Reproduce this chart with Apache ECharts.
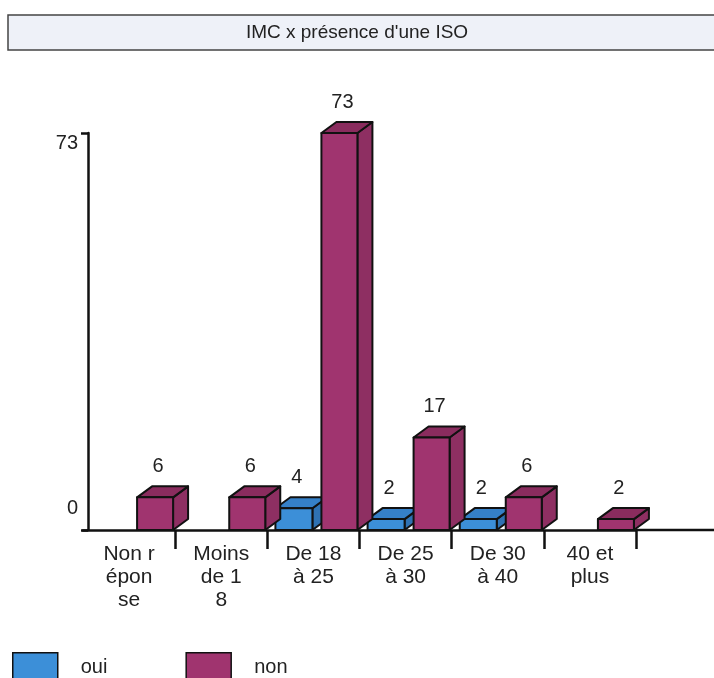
<!DOCTYPE html>
<html>
<head>
<meta charset="utf-8">
<script src="https://cdn.jsdelivr.net/npm/echarts@6/dist/echarts.min.js"></script>
<style>
html,body{margin:0;padding:0;background:#fff;}
#c{width:714px;height:678px;}
</style>
</head>
<body>
<div id="c"></div>
<script>
var titleText = "IMC x présence d'une ISO";
var categories = ["Non r\népon\nse", "Moins\nde 1\n8", "De 18\nà 25", "De 25\nà 30", "De 30\nà 40", "40 et\nplus"];
var seriesNames = ["oui", "non"];
var ouiValues = [0, 0, 4, 2, 2, 0];
var nonValues = [6, 6, 73, 17, 6, 2];
var yTicks = [0, 73];

var FONT = "'Liberation Sans', Arial, sans-serif";
var DX = 15, DY = -11;

function makeBox(offset, width, front, top, side) {
  return function (params, api) {
    var v = api.value(1);
    if (!v) return { type: 'group', children: [] };
    var base = api.coord([api.value(0), 0]);
    var tp = api.coord([api.value(0), v]);
    var x0 = base[0] + offset, x1 = x0 + width;
    var yb = base[1], yt = tp[1];
    var stroke = { stroke: '#111', lineWidth: 2, lineJoin: 'round' };
    return {
      type: 'group',
      children: [
        { type: 'polygon', shape: { points: [[x1, yt], [x1, yb], [x1 + DX, yb + DY], [x1 + DX, yt + DY]] },
          style: Object.assign({ fill: side }, stroke) },
        { type: 'polygon', shape: { points: [[x0, yt], [x1, yt], [x1 + DX, yt + DY], [x0 + DX, yt + DY]] },
          style: Object.assign({ fill: top }, stroke) },
        { type: 'rect', shape: { x: x0, y: yt, width: width, height: yb - yt },
          style: Object.assign({ fill: front }, stroke) },
        { type: 'text', style: { text: String(v), x: (x0 + x1) / 2 + 3, y: yt - 31, align: 'center', verticalAlign: 'middle',
          font: '20px ' + FONT, fill: '#222' } }
      ]
    };
  };
}

var chart = echarts.init(document.getElementById('c'), null, { renderer: 'canvas' });
var option = {
  backgroundColor: '#ffffff',
  animation: false,
  title: {
    text: titleText, left: 'center', top: 23, padding: 0,
    textStyle: { fontFamily: FONT, fontSize: 19, fontWeight: 'normal', color: '#222', lineHeight: 20 }
  },
  legend: {
    left: 7, top: 647, itemWidth: 45, itemHeight: 30, itemGap: 78, icon: 'rect',
    data: seriesNames,
    itemStyle: { borderColor: '#111', borderWidth: 1.5 },
    textStyle: { fontFamily: FONT, fontSize: 20, color: '#222', padding: [0, 0, 26, 18] }
  },
  grid: { left: 83, right: 78, top: 133, bottom: 148 },
  xAxis: {
    type: 'category', data: categories,
    axisLine: { lineStyle: { color: '#111', width: 2.5 } },
    axisTick: { show: true, length: 19, interval: function (index) { return index !== 0; },
      lineStyle: { color: '#111', width: 2.5 } },
    axisLabel: { fontFamily: FONT, fontSize: 21, color: '#222', lineHeight: 23, margin: 13, interval: 0 },
    splitLine: { show: false }
  },
  yAxis: {
    type: 'value', min: yTicks[0], max: yTicks[1], interval: yTicks[1] - yTicks[0], offset: -5,
    axisLine: { show: true, lineStyle: { color: '#111', width: 2.5 } },
    axisTick: { show: true, length: 7, lineStyle: { color: '#111', width: 2.5 } },
    axisLabel: {
      margin: 10,
      formatter: function (v) { return v === yTicks[1] ? '{hi|' + v + '}' : '{lo|' + v + '}'; },
      rich: {
        hi: { fontFamily: FONT, fontSize: 20, color: '#222', padding: [20, 0, 0, 0] },
        lo: { fontFamily: FONT, fontSize: 20, color: '#222', padding: [0, 0, 44, 0] }
      }
    },
    splitLine: { show: false }
  },
  series: [
    { name: seriesNames[0], type: 'custom', clip: false, z: 2,
      itemStyle: { color: '#3c8fd8' },
      renderItem: makeBox(-38, 37, '#3c8fd8', '#3580c8', '#2f72b3'),
      data: ouiValues.map(function (v, i) { return [i, v]; }) },
    { name: seriesNames[1], type: 'custom', clip: false, z: 3,
      itemStyle: { color: '#a0346f' },
      renderItem: makeBox(8, 36, '#a0346f', '#8a2c5e', '#8e2f62'),
      data: nonValues.map(function (v, i) { return [i, v]; }) }
  ]
};
chart.setOption(option);
var p0 = chart.convertToPixel({ xAxisIndex: 0, yAxisIndex: 0 }, [categories.length - 1, 0]);
var gridRight = 714 - 78;
chart.setOption({
  graphic: [
    { type: 'rect', z: -1, shape: { x: 8, y: 15, width: 720, height: 35 },
      style: { fill: '#eef1f8', stroke: '#444', lineWidth: 1.5 } },
    { type: 'line', z: 1, shape: { x1: gridRight, y1: p0[1], x2: 714, y2: p0[1] },
      style: { stroke: '#111', lineWidth: 2.5 } }
  ]
});
</script>
</body>
</html>
